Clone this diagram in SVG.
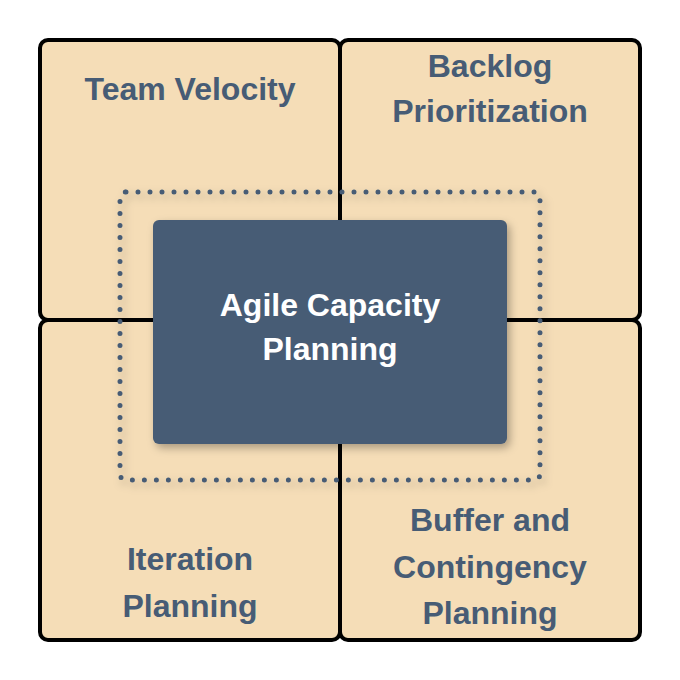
<svg xmlns="http://www.w3.org/2000/svg" width="680" height="680" viewBox="0 0 680 680">
<defs>
<style>
.q{fill:#F5DDB7;stroke:#000;stroke-width:4}
.t{font-family:"Liberation Sans",Arial,sans-serif;font-weight:bold;font-size:32px;fill:#475C75;text-anchor:middle}
.c{font-family:"Liberation Sans",Arial,sans-serif;font-weight:bold;font-size:32px;fill:#fff;text-anchor:middle}
</style>
<filter id="sh" x="-20%" y="-20%" width="140%" height="140%"><feDropShadow dx="3" dy="4" stdDeviation="4" flood-color="#000" flood-opacity="0.3"/></filter>
</defs>
<rect width="680" height="680" fill="#fff"/>
<g id="team-velocity"><rect class="q" x="40" y="40" width="300" height="280" rx="8"/><text class="t" x="190" y="100">Team Velocity</text></g>
<g id="backlog"><rect class="q" x="340" y="40" width="300" height="280" rx="8"/><text class="t" x="490" y="77">Backlog</text><text class="t" x="490" y="122">Prioritization</text></g>
<g id="iteration"><rect class="q" x="40" y="320" width="300" height="320" rx="8"/><text class="t" x="190" y="570">Iteration</text><text class="t" x="190" y="617">Planning</text></g>
<g id="buffer"><rect class="q" x="340" y="320" width="300" height="320" rx="8"/><text class="t" x="490" y="531">Buffer and</text><text class="t" x="490" y="578">Contingency</text><text class="t" x="490" y="624">Planning</text></g>
<g id="connectors"><rect x="120" y="192" width="420" height="288" rx="6" fill="none" stroke="#475C75" stroke-width="5" stroke-linecap="round" stroke-dasharray="0 12" filter="url(#sh)"/></g>
<g id="center"><rect x="153" y="220" width="354" height="224" rx="6" fill="#475C75" filter="url(#sh)"/><text class="c" x="330" y="316">Agile Capacity</text><text class="c" x="330" y="360">Planning</text></g>
</svg>
